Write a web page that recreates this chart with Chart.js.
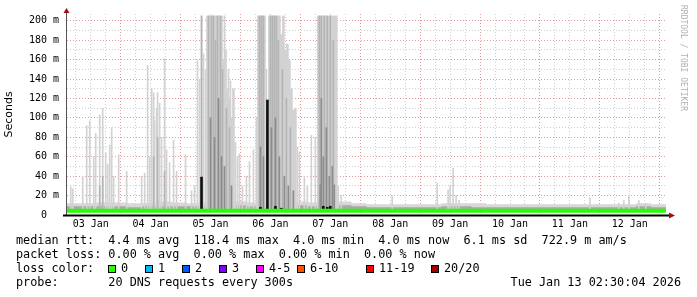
<!DOCTYPE html>
<html>
<head>
<meta charset="utf-8">
<script src="https://cdn.jsdelivr.net/npm/chart.js"></script>
<style>
body{margin:0;background:#fff}
canvas{display:block}
</style>
</head>
<body>
<canvas id="grafico" width="697" height="297"></canvas>
<script>

/* DADOS (x = horas desde 03 Jan 00:00, y = ms) */

const dayLabels=["03 Jan","04 Jan","05 Jan","06 Jan","07 Jan","08 Jan","09 Jan","10 Jan","11 Jan","12 Jan"]

const baseHours=[2.5,8.5,14.5,20.5,26.5,32.5,38.5,44.5,50.5,56.5,62.5,68.5,74.5,80.5,86.5,92.5,98.5,104.5,110.5,116.5,122.5,128.5,134.5,140.5,146.5,152.5,158.5,164.5,170.5,176.5,182.5,188.5,194.5,200.5,206.5,212.5,218.5,224.5,230.5,236.5,242.5]
const baseLight=[12,12,13,13,12,12,14,13,12,13,14,14,13,13,14,14,13,13,14,12,11,11,11,11,11,12,12,12,11,11,11,11,11,11,11,11,11,11,12,11,11]
const baseDark=[9,9,9,9,8,9,9,9,9,9,10,10,9,10,10,10,9,10,10,9,8,8,8,8,8,9,9,8,8,8,8,8,8,8,8,8,8,8,9,8,8]

/* picos isolados */
const spikeHours=[4.0,4.8,8.8,10.4,11.6,13.2,14.0,15.6,16.8,18.0,18.8,19.6,20.4,21.2,23.2,26.4,32.4,33.6,34.8,35.6,36.4,37.2,37.6,38.4,38.8,39.6,40.4,41.6,42.4,43.6,45.2,46.4,50.0,52.4,53.6,54.8,55.6,56.4,57.2,58.0,65.6,67.2,68.0,70.0,70.8,71.6,72.8,74.4,75.6,77.2,78.4,82.4,94.8,95.6,97.6,98.8,100.4,102.0,111.2,112.4,132.8,150.8,155.2,156.0,157.2,158.4,159.6,212.0,223.6,225.6,227.6,231.6,234.4]
const spikeTop=[29,27,40,92,97,60,84,103,110,64,52,72,90,40,62,45,40,43,154,60,130,126,97,110,126,115,80,161,67,54,77,45,62,25,30,159,140,205,166,150,205,150,138,75,60,63,30,40,55,67,100,150,70,65,40,30,82,80,30,20,20,33,26,30,48,20,15,18,12,15,20,15,12]

/* zonas densas */
const denseHours=[58.8,59.6,60.4,61.2,62.0,62.8,63.6,64.4,65.2,66.0,66.8,67.6,68.4,69.2,79.2,80.0,80.8,81.6,83.6,84.4,85.2,86.0,86.8,87.6,88.4,89.2,90.0,90.8,91.6,92.4,93.2,94.0,103.2,104.0,104.8,105.6,106.4,107.2,108.0,108.8,109.6,110.4]
const denseTop=[205,205,205,205,205,205,205,205,160,170,130,120,100,130,205,205,205,205,205,205,205,205,205,205,186,205,170,176,159,130,108,110,205,205,205,205,205,205,205,205,205,205]

const midHours=[15.6,16.8,37.2,38.8,41.6,56.4,59.2,60.4,61.2,62.0,62.8,64.0,64.8,66.4,67.6,79.6,80.4,81.2,84.0,84.8,85.6,86.4,87.2,88.8,90.4,92.0,103.6,104.4,105.6,106.8,108.0,109.2]
const midTop=[30,40,60,80,45,205,205,205,205,180,205,205,150,110,90,205,205,205,205,205,205,205,180,150,120,90,205,205,205,205,205,180]

const darkHours=[60.0,61.6,63.2,64.4,65.6,68.4,80.0,81.2,84.4,86.0,87.6,89.6,91.2,93.2,104.0,104.4,105.2,106.4,107.6,108.8,109.6]
const darkTop=[100,80,120,60,50,30,70,60,90,100,60,40,30,25,31,120,60,90,40,50,31]

const blackHours=[56.4,82.8,80.0,86.0,88.4,105.2,106.8,108.0]
const blackTop=[39,118.4,8,9,7,9,8,9]

const medianHours=[2.5,242.5]
const median=[4.4,4.4]

/* MONTAR SERIES */

const pares=(xs,ys,lo)=>xs.map((x,i)=>({x:x,y:[lo,ys[i]]}))
const pontos=(xs,ys)=>xs.map((x,i)=>({x:x,y:ys[i]}))

const gridHours=[]
for(let h=6;h<=240;h+=6) gridHours.push(h)
const yTicks=[]
for(let v=0;v<=200;v+=10) yTicks.push(v)

const mono="'DejaVu Sans Mono'"

/* DESENHO EXTRA: eixos, setas, legenda */

const extras={
id:"extras",
afterDraw(chart){
const c=chart.ctx
const a=chart.chartArea
c.save()
c.strokeStyle="#555"
c.lineWidth=1
c.beginPath()
c.moveTo(a.left-0.5,a.bottom)
c.lineTo(a.left-0.5,a.top-1)
c.stroke()
c.strokeStyle="#000"
c.lineWidth=2
c.beginPath()
c.moveTo(a.left-4,a.bottom+0.5)
c.lineTo(a.right+4,a.bottom+0.5)
c.stroke()
c.fillStyle="#a01010"
c.beginPath()
c.moveTo(a.left-3.5,a.top-1)
c.lineTo(a.left+2.5,a.top-1)
c.lineTo(a.left-0.5,a.top-6)
c.closePath()
c.fill()
c.beginPath()
c.moveTo(a.right+3,a.bottom-2.5)
c.lineTo(a.right+3,a.bottom+3.5)
c.lineTo(a.right+9,a.bottom+0.5)
c.closePath()
c.fill()

c.fillStyle="#000"
c.font="11.8px "+mono
c.textBaseline="middle"
c.fillText("median rtt:  4.4 ms avg  118.4 ms max  4.0 ms min  4.0 ms now  6.1 ms sd  722.9 m am/s",16,241)
c.fillText("packet loss: 0.00 % avg  0.00 % max  0.00 % min  0.00 % now",16,255)
c.fillText("loss color:",16,269)
c.fillText("probe:       20 DNS requests every 300s",16,283)
c.textAlign="right"
c.fillText("Tue Jan 13 02:30:04 2026",681,283)
c.textAlign="left"

const caixas=[[108,"#26ff00","0",121],[145,"#00b8ff","1",158],[182,"#0059ff","2",195],[219,"#7e00ff","3",232],[256,"#ff00ff","4-5",269],[297,"#ff5500","6-10",310],[366,"#ff0000","11-19",379],[431,"#a00000","20/20",444]]
caixas.forEach(b=>{
c.fillStyle=b[1]
c.fillRect(b[0],265,8,8)
c.strokeStyle="#000"
c.lineWidth=1
c.strokeRect(b[0]+0.5,265.5,7,7)
c.fillStyle="#000"
c.fillText(b[2],b[3],269)
})

c.translate(683,5)
c.rotate(Math.PI/2)
c.fillStyle="#b0b0b0"
c.font="8px "+mono
c.textBaseline="middle"
c.fillText("RRDTOOL / TOBI OETIKER",0,0)
c.restore()
}
}

/* GRAFICO */

const ctx=document.getElementById("grafico")

new Chart(ctx,{
type:"bar",
data:{
datasets:[
{type:"line",data:pontos(medianHours,median),borderColor:"#26ff00",borderWidth:4,pointRadius:0,order:0},
{data:pares(blackHours,blackTop,4),backgroundColor:"#111",barThickness:2,grouped:false,order:1},
{data:pares(darkHours,darkTop,4),backgroundColor:"#8c8c8c",barThickness:1,grouped:false,order:2},
{data:pares(midHours,midTop,4),backgroundColor:"#b4b4b4",barThickness:1,grouped:false,order:3},
{data:pares(denseHours,denseTop,4),backgroundColor:"#d2d2d2",barThickness:2,grouped:false,order:4},
{data:pares(spikeHours,spikeTop,4),backgroundColor:"#d2d2d2",barThickness:1,grouped:false,order:5},
{type:"line",data:pontos(baseHours,baseDark),borderWidth:0,pointRadius:0,stepped:true,fill:{value:4},backgroundColor:"#a8a8a8",order:6},
{type:"line",data:pontos(baseHours,baseLight),borderWidth:0,pointRadius:0,stepped:true,fill:{value:4},backgroundColor:"#d8d8d8",order:7}
]
},
options:{
responsive:false,
animation:false,
layout:{padding:{left:0,right:31,top:13,bottom:0}},
plugins:{legend:{display:false},tooltip:{enabled:false}},
scales:{
x:{
type:"linear",
min:2.5,
max:242.5,
offset:false,
z:1,
afterBuildTicks:s=>{s.ticks=gridHours.map(v=>({value:v}))},
afterFit:s=>{s.height=82},
grid:{offset:false,drawTicks:false,color:c=>c.tick&&c.tick.value%24===0?"#e09a9a":"#cfcfcf"},
border:{display:false,dash:[1,2]},
ticks:{autoSkip:false,maxRotation:0,padding:3,color:"#000",font:{family:mono,size:10},
callback:v=>v%24===12?dayLabels[Math.floor(v/24)]:""}
},
y:{
min:0,
max:207,
z:1,
afterBuildTicks:s=>{s.ticks=yTicks.map(v=>({value:v}))},
afterFit:s=>{s.width=67},
grid:{drawTicks:false,color:c=>c.tick&&c.tick.value%20===0?"#e09a9a":"#cfcfcf"},
border:{display:false,dash:[1,2]},
title:{display:true,text:"Seconds",color:"#000",font:{family:"'DejaVu Sans'",size:11},padding:{top:3,bottom:0}},
ticks:{autoSkip:false,padding:8,color:"#000",font:{family:mono,size:10},
callback:v=>v%20!==0?"":(v===0?"0  ":v+" m")}
}
}
},
plugins:[extras]
})

</script>
</body>
</html>
